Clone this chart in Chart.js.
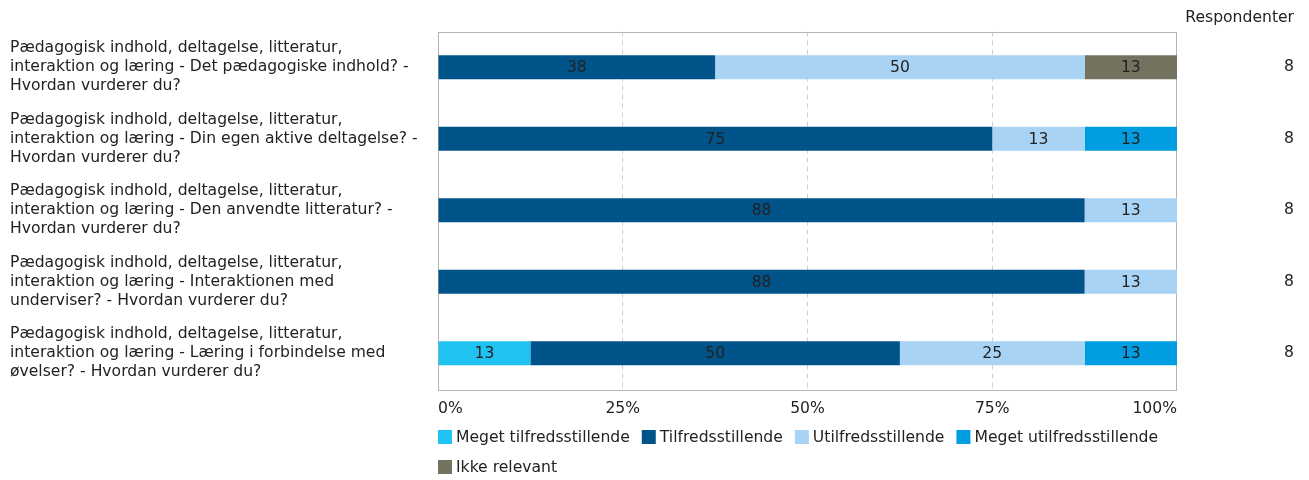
<!DOCTYPE html>
<html>
<head>
<meta charset="utf-8">
<script src="https://cdn.jsdelivr.net/npm/chart.js@4/dist/chart.umd.min.js"></script>
<style>
html,body{margin:0;padding:0;background:#fff;}
#wrap{width:1309px;height:480px;position:relative;}
</style>
</head>
<body>
<div id="wrap"><canvas id="c" width="1309" height="480"></canvas></div>
<script>
const categories = [
  ["Pædagogisk indhold, deltagelse, litteratur,", "interaktion og læring - Det pædagogiske indhold? -", "Hvordan vurderer du?"],
  ["Pædagogisk indhold, deltagelse, litteratur,", "interaktion og læring - Din egen aktive deltagelse? -", "Hvordan vurderer du?"],
  ["Pædagogisk indhold, deltagelse, litteratur,", "interaktion og læring - Den anvendte litteratur? -", "Hvordan vurderer du?"],
  ["Pædagogisk indhold, deltagelse, litteratur,", "interaktion og læring - Interaktionen med", "underviser? - Hvordan vurderer du?"],
  ["Pædagogisk indhold, deltagelse, litteratur,", "interaktion og læring - Læring i forbindelse med", "øvelser? - Hvordan vurderer du?"]
];
const seriesNames = ["Meget tilfredsstillende", "Tilfredsstillende", "Utilfredsstillende", "Meget utilfredsstillende", "Ikke relevant"];
const megetTilfreds = [0, 0, 0, 0, 12.5];
const tilfreds = [37.5, 75, 87.5, 87.5, 50];
const utilfreds = [50, 12.5, 12.5, 12.5, 25];
const megetUtilfreds = [0, 12.5, 0, 0, 12.5];
const ikkeRelevant = [12.5, 0, 0, 0, 0];
const respondenter = [8, 8, 8, 8, 8];
const xTicks = [0, 25, 50, 75, 100];
const respHeader = "Respondenter";

const colors = ["#1fc2f1", "#00548a", "#a8d3f4", "#009ee0", "#747360"];
const FONT = "'DejaVu Sans', Verdana, sans-serif";
const TXT = "#222";
const FS = 15.6;

const seriesValues = [megetTilfreds, tilfreds, utilfreds, megetUtilfreds, ikkeRelevant];

const extrasPlugin = {
  id: 'extras',
  beforeDatasetsDraw(chart) {
    const {ctx, chartArea: a} = chart;
    ctx.save();
    ctx.strokeStyle = '#b4b4b4';
    ctx.lineWidth = 1;
    ctx.strokeRect(Math.round(a.left) + 0.5, Math.round(a.top) + 0.5, Math.round(a.right - a.left) - 1, Math.round(a.bottom - a.top));
    ctx.restore();
  },
  afterDatasetsDraw(chart) {
    const {ctx} = chart;
    ctx.save();
    ctx.font = FS + "px " + FONT;
    ctx.fillStyle = TXT;
    ctx.textAlign = 'center';
    ctx.textBaseline = 'middle';
    chart.data.datasets.forEach((ds, di) => {
      const meta = chart.getDatasetMeta(di);
      meta.data.forEach((el, i) => {
        const v = ds.data[i];
        if (!v) return;
        const cx = (el.x + el.base) / 2;
        ctx.fillText(String(Math.round(v)), cx, el.y + 1);
      });
    });
    ctx.restore();
  },
  afterDraw(chart) {
    const {ctx, chartArea: a} = chart;
    ctx.save();
    ctx.font = FS + "px " + FONT;
    ctx.fillStyle = TXT;
    ctx.textAlign = 'right';
    ctx.textBaseline = 'middle';
    ctx.fillText(respHeader, 1294, 18);
    ctx.textAlign = 'left';
    let x = a.left, y = 437;
    const box = 14, gap = 4, spacing = 12, rowH = 30, maxRight = 1190;
    seriesNames.forEach((name, i) => {
      const w = box + gap + ctx.measureText(name).width;
      if (x + w > maxRight && x > a.left) { x = a.left; y += rowH; }
      ctx.fillStyle = colors[i];
      ctx.fillRect(x, y - box / 2, box, box);
      ctx.fillStyle = TXT;
      ctx.fillText(name, x + box + gap, y + 1);
      x += w + spacing;
    });
    ctx.restore();
  }
};

new Chart(document.getElementById('c'), {
  type: 'bar',
  data: {
    labels: categories,
    datasets: seriesNames.map((n, i) => ({
      label: n,
      data: seriesValues[i],
      backgroundColor: colors[i],
      borderWidth: 0,
      barPercentage: 0.335,
      categoryPercentage: 1
    }))
  },
  options: {
    indexAxis: 'y',
    responsive: false,
    animation: false,
    devicePixelRatio: 1,
    layout: {padding: {left: 10, right: 15, top: 31, bottom: 0}},
    plugins: {legend: {display: false}, tooltip: {enabled: false}},
    scales: {
      x: {
        stacked: true,
        min: 0, max: 100,
        afterBuildTicks(s) { s.ticks = xTicks.map(v => ({value: v})); },
        ticks: {
          callback: v => v + '%',
          align: 'inner',
          padding: 11,
          color: TXT,
          font: {family: FONT, size: FS}
        },
        grid: {
          drawTicks: false,
          color: ctx => (ctx.tick && (ctx.tick.value === 0 || ctx.tick.value === 100)) ? 'rgba(0,0,0,0)' : '#d0d0d0'
        },
        border: {display: false, dash: [5, 4]},
        afterFit(s) { s.height = 91; }
      },
      y: {
        stacked: true,
        position: 'left',
        ticks: {
          crossAlign: 'far',
          color: TXT,
          font: {family: FONT, size: FS, lineHeight: 19 / FS}
        },
        grid: {display: false, drawTicks: false},
        border: {display: false},
        afterFit(s) { s.width = 428; }
      },
      y2: {
        type: 'category',
        labels: respondenter.map(String),
        position: 'right',
        offset: true,
        ticks: {
          crossAlign: 'far',
          color: TXT,
          font: {family: FONT, size: FS}
        },
        grid: {display: false, drawTicks: false},
        border: {display: false},
        afterFit(s) { s.width = 117; }
      }
    }
  },
  plugins: [extrasPlugin]
});
</script>
</body>
</html>
